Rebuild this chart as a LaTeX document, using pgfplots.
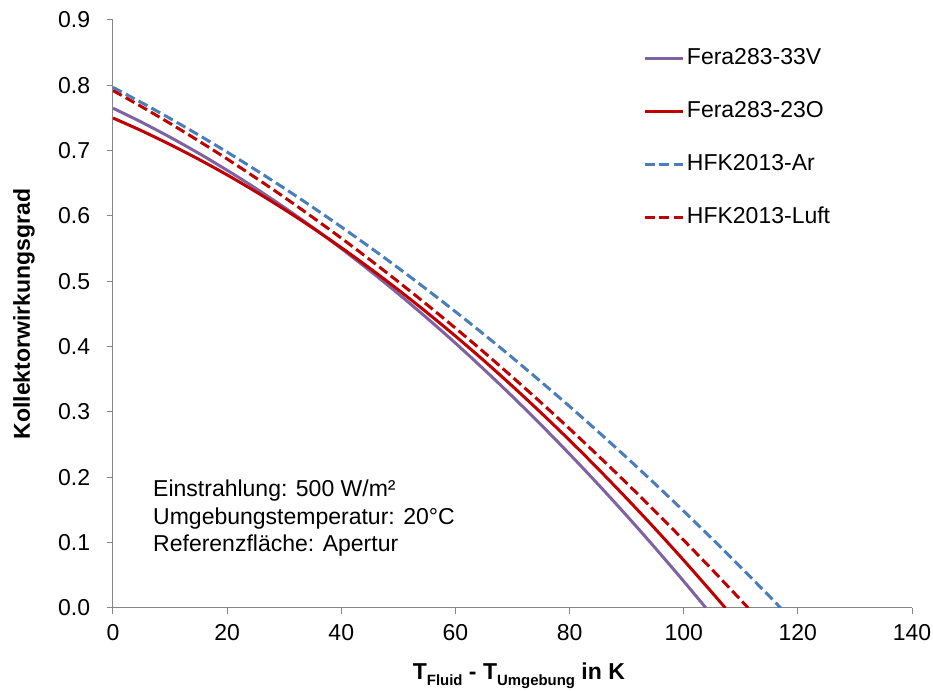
\documentclass[border=0pt]{standalone}
\usepackage{fontspec}
\setmainfont{Liberation Sans}
\usepackage{pgfplots}
\usepackage{pgfplotstable}
\pgfplotsset{compat=1.18}
\definecolor{cpurple}{HTML}{7F63A1}
\definecolor{cred}{HTML}{C00000}
\definecolor{cblue}{HTML}{4A7EBB}
\definecolor{caxis}{HTML}{868686}

\pgfplotstableread{
x y
0 0.765
5 0.7436
10 0.7206
15 0.6961
20 0.6700
25 0.6424
30 0.6132
35 0.5825
40 0.5502
45 0.5163
50 0.4809
55 0.4439
60 0.4054
65 0.3652
70 0.3236
75 0.2804
80 0.2356
85 0.1893
90 0.1414
95 0.0919
100 0.0409
103.9 0.0
}\feraV

\pgfplotstableread{
x y
0 0.750
5 0.7305
10 0.7094
15 0.6869
20 0.6629
25 0.6373
30 0.6102
35 0.5817
40 0.5516
45 0.5200
50 0.4869
55 0.4523
60 0.4162
65 0.3786
70 0.3394
75 0.2988
80 0.2567
85 0.2130
90 0.1678
95 0.1212
100 0.0730
105 0.0233
107.3 0.0
}\feraO

\pgfplotstableread{
x y
0 0.797
5 0.7736
10 0.7493
15 0.7240
20 0.6978
25 0.6706
30 0.6425
35 0.6134
40 0.5833
45 0.5523
50 0.5204
55 0.4874
60 0.4536
65 0.4188
70 0.3830
75 0.3462
80 0.3086
85 0.2699
90 0.2303
95 0.1898
100 0.1483
105 0.1058
110 0.0624
115 0.0181
117 0.0
}\hfkAr

\pgfplotstableread{
x y
0 0.792
5 0.7674
10 0.7417
15 0.7150
20 0.6873
25 0.6585
30 0.6288
35 0.5979
40 0.5661
45 0.5332
50 0.4993
55 0.4644
60 0.4284
65 0.3915
70 0.3534
75 0.3144
80 0.2743
85 0.2332
90 0.1911
95 0.1479
100 0.1037
105 0.0585
110 0.0122
111.3 0.0
}\hfkLuft

\newcommand{\fs}{\fontsize{17.25}{20.6}\selectfont}
\newcommand{\sub}[1]{\raisebox{-4.5pt}{\fontsize{11.2}{12}\selectfont #1}}

\begin{document}
\fs
\begin{tikzpicture}
\path[use as bounding box] (-84.75pt,-62.25pt) rectangle (615pt,456pt);
\begin{axis}[
  at={(0pt,0pt)}, anchor=south west,
  scale only axis, width=599.25pt, height=441pt,
  xmin=0, xmax=140, ymin=0, ymax=0.9,
  axis lines*=left,
  axis line style={caxis, line width=0.75pt},
  tick style={caxis, line width=0.75pt},
  tick align=outside,
  major tick length=4.5pt,
  xtick={0,20,40,60,80,100,120,140},
  ytick={0,0.1,0.2,0.3,0.4,0.5,0.6,0.7,0.8,0.9},
  /pgf/number format/assume math mode=true,
  yticklabel style={/pgf/number format/.cd, fixed, fixed zerofill, precision=1, /tikz/.cd, xshift=-6.75pt},
  xticklabel style={yshift=-2.25pt},
  ticklabel style={font=\fs, text=black},
  xlabel={\bfseries T\sub{Fluid} - T\sub{Umgebung} in K},
  xlabel style={at={(axis description cs:0.508,0)}, anchor=base, yshift=-54pt, font=\fs},
  ylabel={\bfseries Kollektorwirkungsgrad},
  ylabel style={at={(axis description cs:-0.104,0.5)}, anchor=base, font=\fs},
  legend style={at={(axis cs:92.87,0.862)}, anchor=north west, draw=none, fill=none,
    font=\fs, inner sep=0pt, row sep=19.75pt,
    nodes={text height=12.5pt, text depth=3.5pt, inner sep=2pt}},
  legend cell align=left,
  legend image code/.code={\draw[#1] (0pt,0pt) -- (28.5pt,0pt);},
]
\addplot[cpurple, line width=2.25pt, smooth] table {\feraV};
\addlegendentry{Fera283-33V}
\addplot[cred, line width=2.25pt, smooth] table {\feraO};
\addlegendentry{Fera283-23O}
\addplot[cblue, line width=2.25pt, smooth, dash pattern=on 7.5pt off 3.4pt] table {\hfkAr};
\addlegendentry{HFK2013-Ar}
\addplot[cred, line width=2.25pt, smooth, dash pattern=on 7.5pt off 3.4pt] table {\hfkLuft};
\addlegendentry{HFK2013-Luft}
\node[anchor=base west, inner sep=0pt, font=\fs] at (axis cs:7.0,0.170) {Einstrahlung: 500 W/m²};
\node[anchor=base west, inner sep=0pt, font=\fs] at (axis cs:7.0,0.1281) {Umgebungstemperatur: 20°C};
\node[anchor=base west, inner sep=0pt, font=\fs] at (axis cs:7.0,0.0862) {Referenzfläche: Apertur};
\end{axis}
\end{tikzpicture}
\end{document}
